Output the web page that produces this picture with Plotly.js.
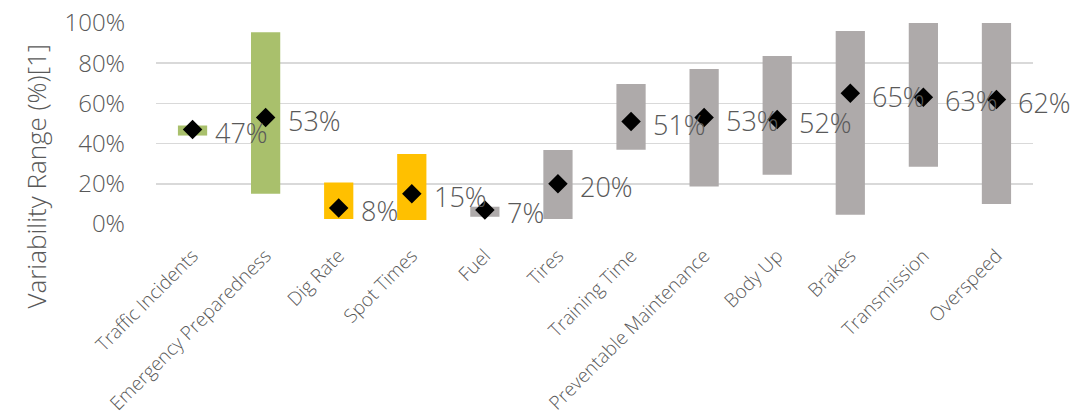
<!DOCTYPE html>
<html><head><meta charset="utf-8">
<script src="https://cdn.plot.ly/plotly-3.0.1.min.js"></script>
<style>html,body{margin:0;padding:0;background:#fff}#chart{width:1071px;height:420px}</style>
</head><body><div id="chart"></div>
<script>
var categories = ["Traffic Incidents","Emergency Preparedness","Dig Rate","Spot Times","Fuel","Tires","Training Time","Preventable Maintenance","Body Up","Brakes","Transmission","Overspeed"];
var lowValues  = [0.44, 0.15, 0.025, 0.02, 0.036, 0.025, 0.37, 0.186, 0.245, 0.046, 0.285, 0.10];
var highValues = [0.49, 0.954, 0.207, 0.348, 0.086, 0.368, 0.697, 0.771, 0.836, 0.96, 1.0, 1.0];
var meanValues = [0.47, 0.53, 0.08, 0.15, 0.07, 0.20, 0.51, 0.53, 0.52, 0.65, 0.63, 0.62];
var meanLabels = ["47%","53%","8%","15%","7%","20%","51%","53%","52%","65%","63%","62%"];
var barColors  = ["#a9c06c","#a9c06c","#ffc000","#ffc000","#aeaaaa","#aeaaaa","#aeaaaa","#aeaaaa","#aeaaaa","#aeaaaa","#aeaaaa","#aeaaaa"];

var FONT = "Open Sans, Segoe UI, sans-serif";
var GREY = "#595959";

var rangeTrace = {
  type: "bar", x: categories,
  base: lowValues,
  y: highValues.map(function(h, i){ return h - lowValues[i]; }),
  width: 0.4,
  marker: {color: barColors},
  hoverinfo: "skip", showlegend: false
};
var meanTrace = {
  type: "scatter", mode: "markers", x: categories, y: meanValues,
  marker: {symbol: "diamond", size: 15, color: "#000"},
  showlegend: false, cliponaxis: false
};
var annotations = categories.map(function(c, i){
  return {x: c, y: meanValues[i], xref: "x", yref: "y", text: meanLabels[i],
    showarrow: false, xanchor: "left", yanchor: "middle", xshift: 20, yshift: -3,
    font: {family: FONT, size: 27, color: GREY, weight: 300}};
});
annotations.push({xref: "paper", yref: "paper", x: -0.137, y: 0.24, text: "Variability Range (%)[1]",
  textangle: -90, showarrow: false, xanchor: "center", yanchor: "middle",
  font: {family: FONT, size: 26, color: GREY, weight: 300}});

var layout = {
  width: 1071, height: 420,
  margin: {l: 156, r: 38, t: 23, b: 196},
  paper_bgcolor: "#fff", plot_bgcolor: "rgba(0,0,0,0)",
  xaxis: {type: "category", range: [-0.5, categories.length - 0.5], tickangle: -45,
    showgrid: false, showline: false, zeroline: false,
    ticks: "", ticklabelstandoff: 16, automargin: false,
    tickfont: {family: FONT, size: 19, color: GREY, weight: 300}},
  yaxis: {range: [0, 1], tickvals: [0,0.2,0.4,0.6,0.8,1.0], ticktext: ["0%","20%","40%","60%","80%","100%"],
    showgrid: true, gridcolor: "#d9d9d9", gridwidth: 1.5, zeroline: false, showline: false,
    ticks: "", ticklabelstandoff: 30, automargin: false,
    tickfont: {family: FONT, size: 24, color: GREY, weight: 300}},
  annotations: annotations
};
Plotly.newPlot("chart", [rangeTrace, meanTrace], layout, {displayModeBar: false, staticPlot: true});
</script></body></html>
